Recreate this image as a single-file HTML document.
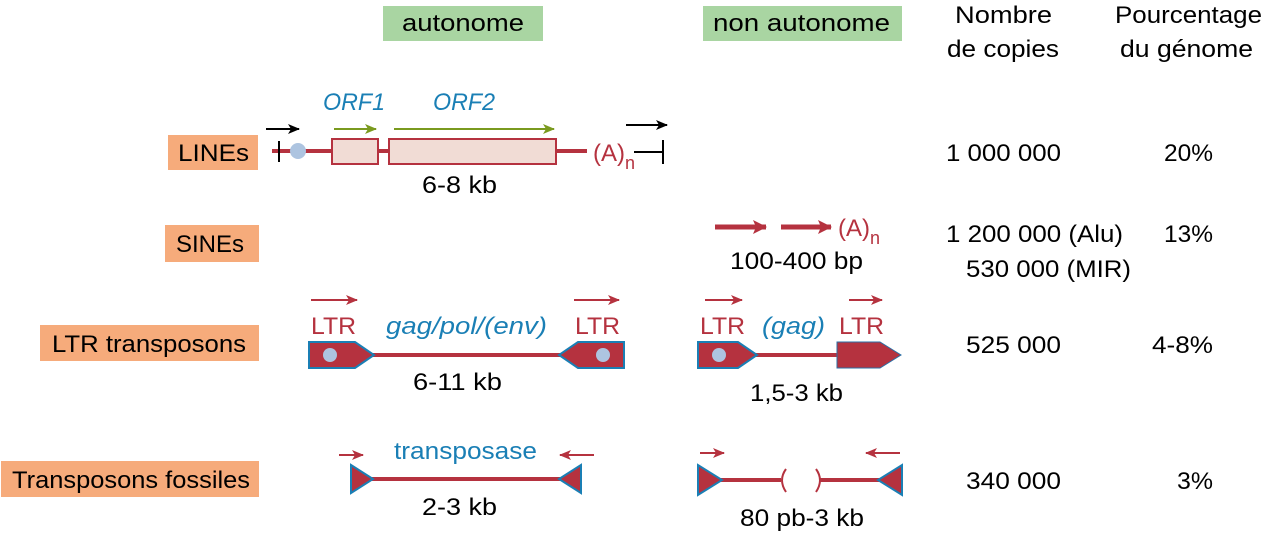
<!DOCTYPE html>
<html><head><meta charset="utf-8"><style>
html,body{margin:0;padding:0;background:#fff;width:1262px;height:557px;overflow:hidden}
text{font-family:"Liberation Sans",sans-serif;font-size:24px}
</style></head><body>
<svg width="1262" height="557" viewBox="0 0 1262 557" xmlns="http://www.w3.org/2000/svg">
<defs>
<marker id="ak" markerWidth="12" markerHeight="10" refX="11" refY="5" orient="auto" markerUnits="userSpaceOnUse"><path d="M0,0 L12,5 L0,10 L3,5z" fill="#000"/></marker>
<marker id="ag" markerWidth="12" markerHeight="10" refX="11" refY="5" orient="auto" markerUnits="userSpaceOnUse"><path d="M0,0 L12,5 L0,10 L3,5z" fill="#7a9a1f"/></marker>
<marker id="ar" markerWidth="12" markerHeight="10" refX="11" refY="5" orient="auto" markerUnits="userSpaceOnUse"><path d="M0,0 L12,5 L0,10 L3,5z" fill="#b5323f"/></marker>
<marker id="arb" markerWidth="14" markerHeight="14" refX="13" refY="7" orient="auto" markerUnits="userSpaceOnUse"><path d="M0,0 L14,7 L0,14 L3,7z" fill="#b5323f"/></marker>
</defs>
<rect x="383" y="6" width="160" height="35" fill="#a9d5a2"/>
<text x="402" y="31" textLength="122" lengthAdjust="spacingAndGlyphs">autonome</text>
<rect x="703" y="6" width="199" height="35" fill="#a9d5a2"/>
<text x="713" y="31" textLength="177" lengthAdjust="spacingAndGlyphs">non autonome</text>
<text x="955" y="23" textLength="97" lengthAdjust="spacingAndGlyphs">Nombre</text>
<text x="947" y="57" textLength="112" lengthAdjust="spacingAndGlyphs">de copies</text>
<text x="1115" y="23" textLength="147" lengthAdjust="spacingAndGlyphs">Pourcentage</text>
<text x="1120" y="57" textLength="133" lengthAdjust="spacingAndGlyphs">du génome</text>

<rect x="168" y="135" width="90" height="35" fill="#f6ab7b"/><text x="178" y="161" textLength="71" lengthAdjust="spacingAndGlyphs">LINEs</text>
<rect x="165" y="225" width="94" height="37" fill="#f6ab7b"/><text x="176" y="252" textLength="68" lengthAdjust="spacingAndGlyphs">SINEs</text>
<rect x="40" y="325" width="219" height="36" fill="#f6ab7b"/><text x="52" y="352" textLength="194" lengthAdjust="spacingAndGlyphs">LTR transposons</text>
<rect x="1" y="461" width="258" height="36" fill="#f6ab7b"/><text x="12" y="488" textLength="238" lengthAdjust="spacingAndGlyphs">Transposons fossiles</text>

<text x="946" y="161" textLength="115" lengthAdjust="spacingAndGlyphs">1 000 000</text>
<text x="1164" y="161" textLength="49" lengthAdjust="spacingAndGlyphs">20%</text>
<text x="946" y="242" textLength="177" lengthAdjust="spacingAndGlyphs">1 200 000 (Alu)</text>
<text x="966" y="277" textLength="165" lengthAdjust="spacingAndGlyphs">530 000 (MIR)</text>
<text x="1164" y="242" textLength="49" lengthAdjust="spacingAndGlyphs">13%</text>
<text x="966" y="353" textLength="95" lengthAdjust="spacingAndGlyphs">525 000</text>
<text x="1152" y="353" textLength="61" lengthAdjust="spacingAndGlyphs">4-8%</text>
<text x="966" y="489" textLength="95" lengthAdjust="spacingAndGlyphs">340 000</text>
<text x="1177" y="489" textLength="36" lengthAdjust="spacingAndGlyphs">3%</text>
<!-- LINE -->
<line x1="272" y1="151" x2="587" y2="151" stroke="#b5323f" stroke-width="4"/>
<line x1="279" y1="141" x2="279" y2="162" stroke="#000" stroke-width="2"/>
<circle cx="298" cy="151" r="8" fill="#adc4e0"/>
<rect x="332" y="139" width="46" height="25" fill="#f1dcd5" stroke="#b5323f" stroke-width="2"/>
<rect x="389" y="139" width="167" height="25" fill="#f1dcd5" stroke="#b5323f" stroke-width="2"/>
<text x="323" y="110" textLength="62" lengthAdjust="spacingAndGlyphs" fill="#1a7fb5" font-style="italic">ORF1</text>
<text x="433" y="110" textLength="62" lengthAdjust="spacingAndGlyphs" fill="#1a7fb5" font-style="italic">ORF2</text>
<line x1="334" y1="129" x2="376" y2="129" stroke="#7a9a1f" stroke-width="2" marker-end="url(#ag)"/>
<line x1="394" y1="129" x2="554" y2="129" stroke="#7a9a1f" stroke-width="2" marker-end="url(#ag)"/>
<line x1="266" y1="129" x2="299" y2="129" stroke="#000" stroke-width="2" marker-end="url(#ak)"/>
<text x="593" y="161" fill="#b5323f">(A)<tspan font-size="18" dy="8">n</tspan></text>
<line x1="626" y1="125" x2="667" y2="125" stroke="#000" stroke-width="2" marker-end="url(#ak)"/>
<line x1="634" y1="152" x2="663" y2="152" stroke="#000" stroke-width="2"/>
<line x1="663" y1="140" x2="663" y2="164" stroke="#000" stroke-width="2"/>
<text x="422" y="193" textLength="75" lengthAdjust="spacingAndGlyphs">6-8 kb</text>
<!-- SINE -->
<line x1="715" y1="227" x2="766" y2="227" stroke="#b5323f" stroke-width="5" marker-end="url(#arb)"/>
<line x1="781" y1="227" x2="831" y2="227" stroke="#b5323f" stroke-width="5" marker-end="url(#arb)"/>
<text x="838" y="236" fill="#b5323f">(A)<tspan font-size="18" dy="8">n</tspan></text>
<text x="730" y="269" textLength="133" lengthAdjust="spacingAndGlyphs">100-400 bp</text>
<!-- LTR autonomous -->
<line x1="370" y1="355" x2="565" y2="355" stroke="#b5323f" stroke-width="4"/>
<polygon points="309,342 355,342 374,355 355,368 309,368" fill="#b5323f" stroke="#1a7fb5" stroke-width="2"/>
<circle cx="330" cy="355" r="7" fill="#adc4e0"/>
<polygon points="624,342 578,342 559,355 578,368 624,368" fill="#b5323f" stroke="#1a7fb5" stroke-width="2"/>
<circle cx="603" cy="355" r="7" fill="#adc4e0"/>
<line x1="311" y1="300" x2="357" y2="300" stroke="#b5323f" stroke-width="2" marker-end="url(#ar)"/>
<line x1="574" y1="300" x2="619" y2="300" stroke="#b5323f" stroke-width="2" marker-end="url(#ar)"/>
<text x="311" y="334" textLength="45" lengthAdjust="spacingAndGlyphs" fill="#b5323f">LTR</text>
<text x="575" y="334" textLength="45" lengthAdjust="spacingAndGlyphs" fill="#b5323f">LTR</text>
<text x="386" y="334" textLength="161" lengthAdjust="spacingAndGlyphs" fill="#1a7fb5" font-style="italic">gag/pol/(env)</text>
<text x="413" y="390" textLength="89" lengthAdjust="spacingAndGlyphs">6-11 kb</text>
<!-- LTR non-auto -->
<line x1="755" y1="355" x2="840" y2="355" stroke="#b5323f" stroke-width="4"/>
<polygon points="698,342 738,342 757,355 738,368 698,368" fill="#b5323f" stroke="#1a7fb5" stroke-width="2"/>
<circle cx="719" cy="355" r="7" fill="#adc4e0"/>
<polygon points="837,342 880,342 901,355 880,368 837,368" fill="#b5323f" stroke="#2a6fa5" stroke-width="1"/>
<line x1="705" y1="300" x2="742" y2="300" stroke="#b5323f" stroke-width="2" marker-end="url(#ar)"/>
<line x1="849" y1="300" x2="882" y2="300" stroke="#b5323f" stroke-width="2" marker-end="url(#ar)"/>
<text x="700" y="334" textLength="45" lengthAdjust="spacingAndGlyphs" fill="#b5323f">LTR</text>
<text x="839" y="334" textLength="45" lengthAdjust="spacingAndGlyphs" fill="#b5323f">LTR</text>
<text x="762" y="334" textLength="63" lengthAdjust="spacingAndGlyphs" fill="#1a7fb5" font-style="italic">(gag)</text>
<text x="750" y="401" textLength="93" lengthAdjust="spacingAndGlyphs">1,5-3 kb</text>
<!-- fossils autonomous -->
<line x1="370" y1="479" x2="562" y2="479" stroke="#b5323f" stroke-width="4"/>
<polygon points="351,465 351,493 373,479" fill="#b5323f" stroke="#1a7fb5" stroke-width="2"/>
<polygon points="581,465 581,493 559,479" fill="#b5323f" stroke="#1a7fb5" stroke-width="2"/>
<line x1="339" y1="455" x2="363" y2="455" stroke="#b5323f" stroke-width="2" marker-end="url(#ar)"/>
<line x1="594" y1="455" x2="560" y2="455" stroke="#b5323f" stroke-width="2" marker-end="url(#ar)"/>
<text x="394" y="459" textLength="143" lengthAdjust="spacingAndGlyphs" fill="#1a7fb5">transposase</text>
<text x="422" y="515" textLength="75" lengthAdjust="spacingAndGlyphs">2-3 kb</text>
<!-- fossils non-auto -->
<line x1="720" y1="480" x2="781" y2="480" stroke="#b5323f" stroke-width="4"/>
<line x1="820" y1="480" x2="882" y2="480" stroke="#b5323f" stroke-width="4"/>
<path d="M786,469 Q778,480 786,492" fill="none" stroke="#b5323f" stroke-width="2"/>
<path d="M816,469 Q824,480 816,492" fill="none" stroke="#b5323f" stroke-width="2"/>
<polygon points="698,465 698,495 722,480" fill="#b5323f" stroke="#1a7fb5" stroke-width="2"/>
<polygon points="902,465 902,495 878,480" fill="#b5323f" stroke="#1a7fb5" stroke-width="2"/>
<line x1="700" y1="453" x2="724" y2="453" stroke="#b5323f" stroke-width="2" marker-end="url(#ar)"/>
<line x1="900" y1="453" x2="866" y2="453" stroke="#b5323f" stroke-width="2" marker-end="url(#ar)"/>
<text x="740" y="526" textLength="124" lengthAdjust="spacingAndGlyphs">80 pb-3 kb</text>
</svg>
</body></html>
